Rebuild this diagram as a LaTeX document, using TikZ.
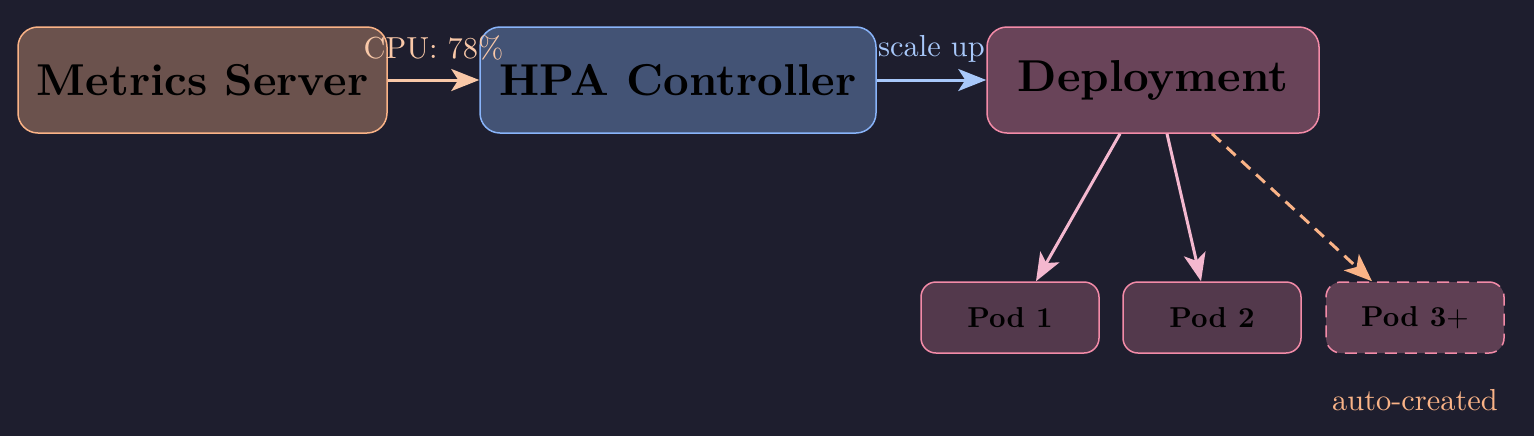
\documentclass[tikz,border=0pt]{standalone}
\usepackage{graphicx}
\usetikzlibrary{arrows.meta,calc}
\definecolor{bg}{HTML}{1E1E2E}
\definecolor{peach}{HTML}{FAB387}
\definecolor{cblue}{HTML}{89B4FA}
\definecolor{cred}{HTML}{F38BA8}
\definecolor{cpuarrow}{HTML}{F9C8A8}
\definecolor{scalearrow}{HTML}{A8C8FA}
\definecolor{podarrow}{HTML}{F4B8CF}
\newcommand\bigtxt[1]{\scalebox{2.233}{\fontsize{10pt}{12pt}\selectfont\bfseries #1}}
\newcommand\podtxt[1]{\scalebox{1.44}{\fontsize{10pt}{12pt}\selectfont\bfseries #1}}
\newcommand\lbltxt[1]{\scalebox{1.52}{\fontsize{10pt}{12pt}\selectfont #1}}
\tikzset{
  box/.style={rectangle, rounded corners=10pt, line width=0.75pt, inner sep=0pt,
    minimum height=53pt, text=black},
  podbox/.style={rectangle, rounded corners=7.5pt, line width=0.75pt, inner sep=0pt,
    minimum width=89pt, minimum height=35.5pt, draw=cred, fill=cred!25!bg, text=black},
  conn/.style={line width=1.5pt, -{Stealth[length=14pt,width=11pt,inset=3.5pt]}},
  lbl/.style={inner sep=0pt, anchor=base},
}
\begin{document}
\begin{tikzpicture}[x=0.5pt,y=-0.5pt]
\fill[bg] (0,0) rectangle (1534,436);
\useasboundingbox (0,0) rectangle (1534,436);
\node[box, draw=peach, fill=peach!35!bg, minimum width=184.5pt] (ms) at (202.5,80) {\bigtxt{Metrics Server}};
\node[box, draw=cblue, fill=cblue!35!bg, minimum width=198pt] (hpa) at (678,80) {\bigtxt{HPA Controller}};
\node[box, draw=cred, fill=cred!35!bg, minimum width=166pt] (dep) at (1153,80) {\bigtxt{Deployment}};
\node[podbox] (p1) at (1010,317.5) {\podtxt{Pod 1}};
\node[podbox] (p2) at (1212,317.5) {\podtxt{Pod 2}};
\node[podbox, dashed, dash pattern=on 6pt off 4pt, fill=cred!30!bg] (p3) at (1415,317.5) {\podtxt{Pod 3$+$}};
\draw[conn, cpuarrow] (ms.east) -- node[lbl, text=cpuarrow, yshift=11pt] {\lbltxt{CPU: 78\%}} (hpa.west);
\draw[conn, scalearrow] (hpa.east) -- node[lbl, text=scalearrow, yshift=12pt] {\lbltxt{scale up}} (dep.west);
\draw[conn, podarrow] ([xshift=-16.5pt]dep.south) -- ([xshift=13pt]p1.north);
\draw[conn, podarrow] ([xshift=7pt]dep.south) -- ([xshift=-5.5pt]p2.north);
\draw[conn, peach, dash pattern=on 6pt off 4pt] ([xshift=29.5pt]dep.south) -- ([xshift=-21.5pt]p3.north);
\node[lbl, text=peach] (ac) at ([yshift=-46.25pt]p3.center) {\lbltxt{auto-created}};
\end{tikzpicture}
\end{document}
